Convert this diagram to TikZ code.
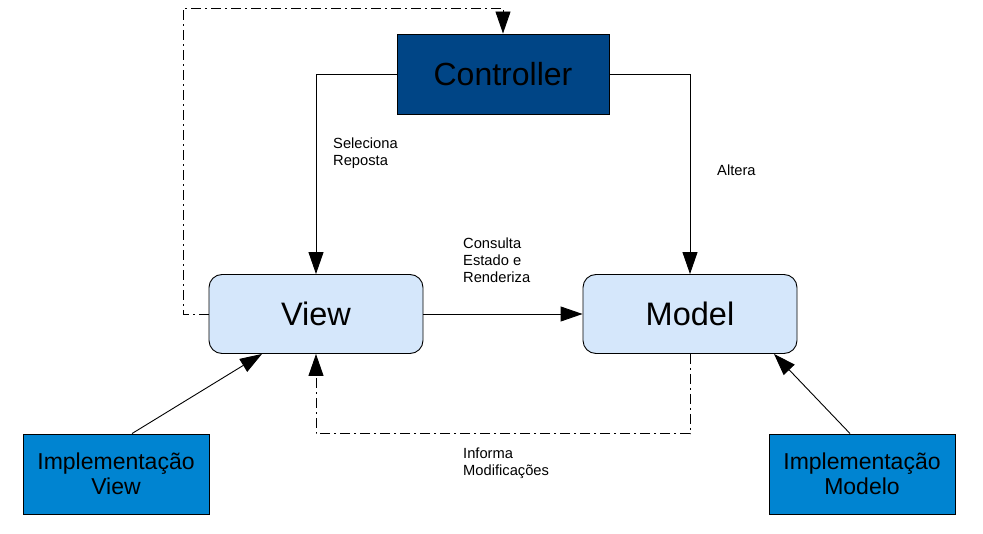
\documentclass[tikz,border=0pt]{standalone}
\usepackage{fontspec}
\setmainfont{Liberation Sans}
\usetikzlibrary{arrows.meta,calc}
\definecolor{ctrlblue}{HTML}{004586}
\definecolor{implblue}{HTML}{0084D1}
\definecolor{paleblue}{HTML}{D5E7FB}
\tikzset{
  ctrlbox/.style={draw=black, line width=0.9pt, fill=ctrlblue, minimum width=212pt, minimum height=80pt, inner sep=0pt, font=\fontsize{32}{36}\selectfont},
  mvbox/.style={draw=black, line width=0.9pt, fill=paleblue, rounded corners=13pt, minimum width=214pt, minimum height=79pt, inner sep=0pt, font=\fontsize{32.5}{36}\selectfont},
  implbox/.style={draw=black, line width=0.9pt, fill=implblue, minimum width=186pt, minimum height=80pt, inner sep=0pt, align=center, font=\fontsize{23}{25}\selectfont},
  lbl/.style={anchor=west, align=left, inner sep=0pt, font=\fontsize{14.7}{17}\selectfont},
  arr/.style={line width=0.9pt, -{Triangle[length=22pt,width=15pt]}},
  dd/.style={dash pattern=on 10pt off 4pt on 2pt off 4pt},
}
\begin{document}
\begin{tikzpicture}[x=1pt,y=-1pt]
\useasboundingbox (0,0) rectangle (983,534);
\node[ctrlbox] (ctrl) at (503,74) {Controller};
\node[mvbox] (view) at (316,314) {View};
\node[mvbox] (model) at (690,314) {Model};
\node[implbox] (implv) at (116,474) {Implementação\\View};
\node[implbox] (implm) at (862,474) {Implementação\\Modelo};

\draw[arr] (ctrl.west) -| (view.north);
\draw[arr] (ctrl.east) -| (model.north);
\draw[arr] (view.east) -- (model.west);

\coordinate (c1) at (183,8);
\draw[arr,dd] (view.west) -| (c1) -| (ctrl.north);
\coordinate (c2) at ($(model.south)+(0,80)$);
\draw[arr,dd] (model.south) -- (c2) -| (view.south);

\draw[arr] ([xshift=16pt]implv.north) -- ([xshift=-54pt]view.south);
\draw[arr] ([xshift=-12pt]implm.north) -- ([xshift=84pt]model.south);

\node[lbl] (l1) at (333,153.5) {Seleciona\\Reposta};
\node[lbl] (l2) at (717,170) {Altera};
\node[lbl] (l3) at (463,260) {Consulta\\Estado e\\Renderiza};
\node[lbl] (l4) at (463,463.5) {Informa\\Modificações};
\end{tikzpicture}
\end{document}
